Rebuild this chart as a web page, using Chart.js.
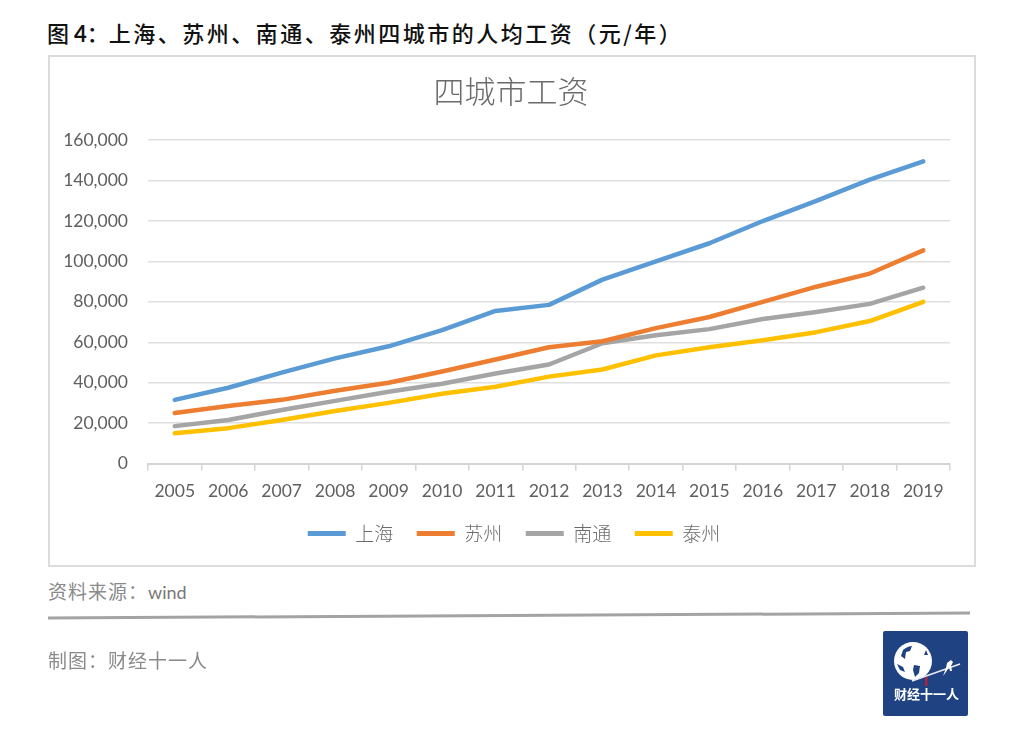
<!DOCTYPE html>
<html lang="zh"><head><meta charset="utf-8">
<script src="https://cdn.jsdelivr.net/npm/chart.js@4"></script>
<style>
html,body{margin:0;padding:0;background:#fff;width:1024px;height:749px;overflow:hidden;font-family:"Noto Sans CJK SC",sans-serif}
.t{position:absolute;white-space:nowrap;line-height:1}
#box{position:absolute;left:48px;top:55px;width:924px;height:508px;border:2px solid #dcdcdc;box-sizing:content-box}
#wrap{position:absolute;left:0;top:0;width:924px;height:508px}
</style></head><body>
<div class="t" style="left:47px;top:21px;font-size:22px;color:#111;font-weight:500">图 <b style="font-family:Lato">4</b>：<span style="letter-spacing:2.5px">上海、苏州、南通、泰州四城市的人均工资（元/年）</span></div>
<div id="box"><div id="wrap"><canvas id="c"></canvas></div></div>
<div class="t" style="left:48px;top:581px;font-size:19px;letter-spacing:1px;color:#8a8a8a">资料来源：<span style="font-family:Lato;font-size:18px;letter-spacing:0;color:#777">wind</span></div>
<svg style="position:absolute;left:0;top:0" width="1024" height="749">
<line x1="48" y1="618" x2="970" y2="613" stroke="#a3a3a3" stroke-width="3"/>
<rect x="883" y="631" width="85" height="85" rx="2" fill="#1f4382"/>
<circle cx="913" cy="661" r="19" fill="#fff"/>
<path d="M903 650q5-4 9-4l-2 5-4 1-1 7-4-3zM914 665l6 1-1 7-4 4-2-7zM926 650l2 5-4 0zM897 664l6 3 2 5-5-2z" fill="#1f4382"/>
<line x1="912" y1="681" x2="960" y2="664" stroke="#e8ecf4" stroke-width="1.5"/>
<path d="M943 676l3-8 1-5 4-3 2 2-2 4 1 5-2 0-1-4-3 5z" fill="#fff"/>
<rect x="925" y="677" width="2.5" height="9" fill="#b3203a"/>
</svg>
<div class="t" style="left:894px;top:687px;font-size:13px;color:#fff;font-weight:700">财经十一人</div>
<div class="t" style="left:48px;top:650px;font-size:19px;letter-spacing:1px;color:#8a8a8a">制图：财经十一人</div>
<script>
const categories=["2005","2006","2007","2008","2009","2010","2011","2012","2013","2014","2015","2016","2017","2018","2019"];
const shanghai=[31500,37500,45000,52000,58000,66000,75500,78500,91000,100000,109000,120000,130000,140500,149500];
const suzhou=[25000,28500,31500,36000,40000,45500,51500,57500,60500,67000,72500,80000,87500,94000,105500];
const nantong=[18500,21500,26500,31000,35500,39500,44500,49000,59500,63500,66500,71500,75000,79000,87000];
const taizhou=[15000,17500,21500,26000,30000,34500,38000,43000,46500,53500,57500,61000,65000,70500,80000];
const mk=(label,data,color)=>({label,data,borderColor:color,backgroundColor:color,borderWidth:4.5,pointRadius:0,tension:0,borderCapStyle:'round',borderJoinStyle:'round',fill:false});
const centerShift={id:'centerShift',afterLayout(c){c.titleBlock.left+=5;c.titleBlock.right+=5;c.legend.left+=8;c.legend.right+=8;}};
new Chart(document.getElementById('c'),{type:'line',plugins:[centerShift],
data:{labels:categories,datasets:[mk('上海',shanghai,'#5b9bd5'),mk('苏州',suzhou,'#ed7d31'),mk('南通',nantong,'#a5a5a5'),mk('泰州',taizhou,'#ffc000')]},
options:{responsive:true,maintainAspectRatio:false,animation:false,devicePixelRatio:1,
layout:{padding:{left:12,right:24,top:0,bottom:12}},
plugins:{tooltip:{enabled:false},
title:{display:true,text:'四城市工资',color:'#6b6b6b',font:{family:'"Noto Sans CJK SC"',size:31,weight:'300'},padding:{top:16,bottom:30},align:'center'},
legend:{position:'bottom',labels:{usePointStyle:false,boxWidth:38,boxHeight:0,padding:23.5,color:'#6b6b6b',font:{family:'"Noto Sans CJK SC"',size:19,weight:'300'},
generateLabels:c=>c.data.datasets.map((d,i)=>({text:d.label,strokeStyle:d.borderColor,fillStyle:d.borderColor,lineWidth:5,lineCap:'round',datasetIndex:i,fontColor:'#6b6b6b'}))}}},
scales:{
x:{offset:true,border:{color:'#d4d4d4',width:2},grid:{display:true,drawOnChartArea:false,drawTicks:true,tickLength:7,color:'#d4d4d4',lineWidth:1.5,offset:true},
ticks:{color:'#5f5f5f',font:{family:'Lato',size:17.5},padding:10,maxRotation:0,autoSkip:false},afterFit:s=>{s.height=37}},
y:{min:0,max:160000,border:{display:false},grid:{color:'#dfdfdf',lineWidth:1.5,drawTicks:false},
ticks:{stepSize:20000,color:'#5f5f5f',font:{family:'Lato',size:17.5},padding:20,callback:v=>v.toLocaleString('en-US')},afterFit:s=>{s.width=86}}
}}});
</script>
</body></html>
